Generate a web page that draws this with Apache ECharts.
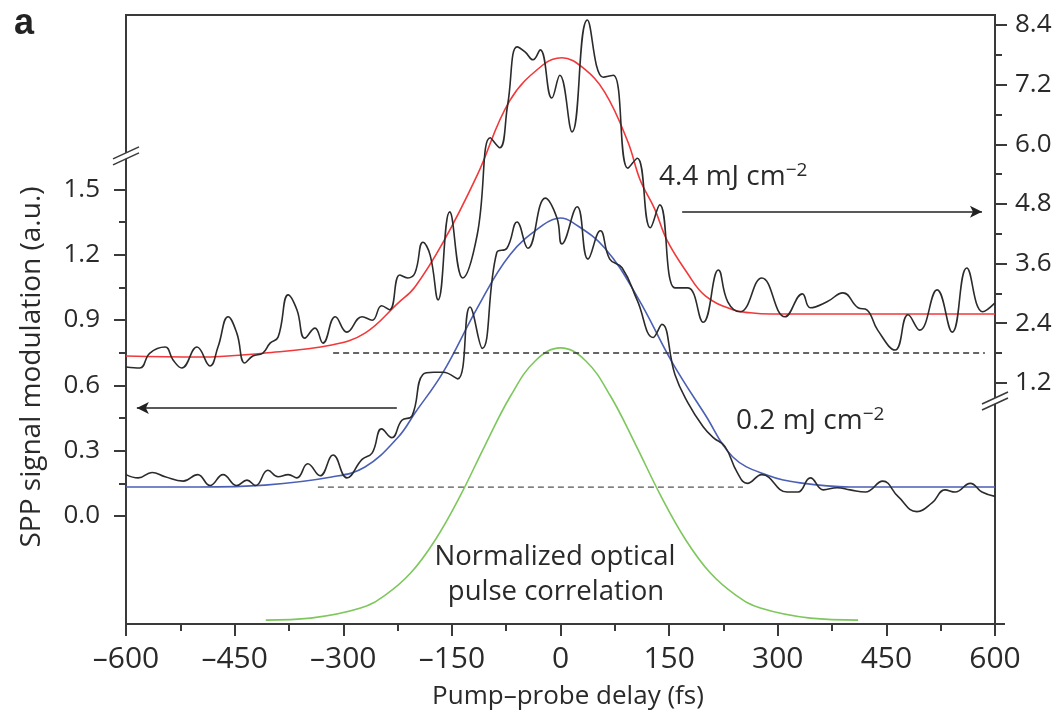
<!DOCTYPE html>
<html><head><meta charset="utf-8">
<script src="https://cdn.jsdelivr.net/npm/echarts@6/dist/echarts.min.js"></script>
<style>html,body{margin:0;padding:0;background:#fff}#c{width:1056px;height:714px}</style>
</head><body><div id="c"></div>
<script>
// ---- tick values ----
const xTicks = [-600, -450, -300, -150, 0, 150, 300, 450, 600];
const xMinorTicks = [-525, -375, -225, -75, 75, 225, 375, 525];
const leftTicks = [0, 0.3, 0.6, 0.9, 1.2, 1.5];
const leftMinorTicks = [0.15, 0.45, 0.75, 1.05, 1.35];
const rightTicks = [1.2, 2.4, 3.6, 4.8, 6.0, 7.2, 8.4];
const rightMinorTicks = [1.8, 3.0, 4.2, 5.4, 6.6, 7.8];
const leftBreakValue = 1.654;   // axis break on left scale
const rightBreakValue = 0.835;  // axis break on right scale

// ---- 4.4 mJ cm-2 measured signal (right axis) ----
const signalHigh = [[-600,1.52],[-581,1.50],[-567,1.80],[-546,1.92],[-535,1.66],[-523,1.50],[-502,1.92],[-484,1.54],[-473,1.92],[-459,2.53],[-447,2.20],[-436,1.60],[-425,1.74],[-411,1.80],[-401,2.00],[-390,2.12],[-376,2.97],[-364,2.67],[-353,2.10],[-339,2.30],[-328,2.00],[-311,2.53],[-295,2.22],[-274,2.53],[-260,2.46],[-247,2.75],[-236,2.67],[-222,3.37],[-211,3.31],[-201,3.41],[-190,4.03],[-180,3.77],[-169,2.87],[-153,4.64],[-135,3.31],[-115,4.18],[-97,6.13],[-84,5.93],[-73,6.79],[-60,7.96],[-49,7.86],[-38,7.70],[-28,7.90],[-12,6.93],[-1,7.39],[16,6.25],[37,8.50],[59,7.35],[73,7.39],[93,5.52],[106,5.72],[124,4.32],[137,4.78],[158,3.11],[176,3.11],[197,2.42],[218,3.47],[231,2.83],[248,2.63],[278,3.31],[310,2.53],[334,2.99],[345,2.71],[368,2.83],[390,3.01],[411,2.71],[423,2.67],[438,2.26],[462,1.86],[480,2.57],[496,2.26],[520,3.07],[541,2.22],[561,3.51],[583,2.63],[600,2.81]];
// ---- 4.4 mJ cm-2 fit (right axis) ----
const fitHigh = [[-600,1.74],[-500,1.72],[-408,1.80],[-316,1.96],[-270,2.20],[-224,2.81],[-201,3.13],[-162,4.03],[-115,5.38],[-70,6.88],[-24,7.60],[2,7.74],[30,7.55],[61,7.05],[93,6.05],[110,5.28],[130,4.70],[147,4.07],[175,3.41],[200,2.95],[238,2.67],[262,2.61],[290,2.585],[400,2.585],[500,2.585],[600,2.585]];
// ---- 0.2 mJ cm-2 measured signal (left axis) ----
const signalLow = [[-600,0.19],[-583,0.175],[-564,0.20],[-546,0.18],[-521,0.16],[-501,0.19],[-484,0.14],[-466,0.19],[-447,0.14],[-433,0.165],[-421,0.14],[-404,0.21],[-390,0.18],[-376,0.19],[-364,0.175],[-349,0.24],[-332,0.185],[-314,0.28],[-295,0.175],[-274,0.26],[-260,0.29],[-247,0.40],[-233,0.36],[-219,0.44],[-205,0.46],[-190,0.65],[-175,0.66],[-162,0.66],[-142,0.63],[-125,0.96],[-108,0.77],[-88,1.21],[-74,1.23],[-60,1.35],[-45,1.23],[-21,1.46],[-5,1.37],[2,1.25],[23,1.42],[38,1.18],[55,1.31],[68,1.18],[85,1.14],[106,0.99],[128,0.82],[140,0.88],[158,0.65],[176,0.52],[197,0.41],[211,0.36],[227,0.32],[244,0.20],[258,0.15],[278,0.19],[313,0.11],[328,0.11],[345,0.175],[363,0.12],[382,0.13],[400,0.12],[421,0.11],[445,0.16],[466,0.09],[492,0.02],[513,0.06],[531,0.12],[545,0.11],[566,0.15],[582,0.11],[600,0.09]];
// ---- 0.2 mJ cm-2 fit (left axis) ----
const fitLow = [[-600,0.133],[-500,0.133],[-408,0.142],[-316,0.179],[-270,0.225],[-224,0.363],[-201,0.473],[-162,0.661],[-115,0.955],[-70,1.199],[-24,1.337],[0,1.369],[16,1.35],[61,1.231],[107,1.001],[154,0.707],[200,0.464],[238,0.271],[285,0.188],[331,0.152],[400,0.133],[500,0.133],[600,0.133]];
// ---- normalized optical pulse correlation (left axis) ----
const pulse = [[-407,-0.478],[-345,-0.469],[-276,-0.423],[-242,-0.363],[-207,-0.262],[-173,-0.110],[-138,0.096],[-104,0.326],[-69,0.551],[-35,0.712],[0,0.772],[35,0.712],[69,0.551],[104,0.326],[138,0.096],[173,-0.110],[207,-0.262],[242,-0.363],[276,-0.423],[345,-0.469],[411,-0.478]];
// ---- dashed baselines ----
const baselineHigh = [[-314,1.80],[586,1.80]];
const baselineLow = [[-335,0.133],[252,0.133]];
// ---- arrows ----
const arrowLeft = [[-226,0.496],[-585,0.496]];
const arrowRight = [[168,4.643],[582,4.643]];

const FONT = '"Open Sans", "Noto Sans", sans-serif';
const AX = '#3a3a3a';
const TXT = '#2a2a2a';

const chart = echarts.init(document.getElementById('c'), null, {renderer: 'canvas'});

function yAx(pos, min, max, ticks, len, showLine, labelMargin) {
  return {
    type: 'value', position: pos, min: min, max: max,
    axisLine: {show: showLine, onZero: false, lineStyle: {color: AX, width: 2}},
    axisTick: {show: true, inside: false, length: len, customValues: ticks, lineStyle: {color: AX, width: 2}},
    axisLabel: labelMargin == null ? {show: false} : {
      customValues: ticks, margin: labelMargin, fontSize: 26, color: TXT, fontFamily: FONT,
      formatter: v => Number(v).toFixed(1)
    },
    splitLine: {show: false}
  };
}
const LMIN = -0.496, LMAX = 2.301, RMIN = -3.652, RMAX = 8.601;

function lineSeries(name, data, yIdx, color, width, smooth, extra) {
  return Object.assign({
    name: name, type: 'line', data: data, yAxisIndex: yIdx, symbol: 'none',
    smooth: smooth, lineStyle: {color: color, width: width}, silent: true, z: 3
  }, extra || {});
}
function arrowMark(pair) {
  return {
    silent: true, symbol: ['none', 'arrow'], symbolSize: [9, 12],
    label: {show: false}, lineStyle: {color: '#222', width: 1.5, type: 'solid'},
    data: [[{coord: pair[0]}, {coord: pair[1]}]]
  };
}

const option = {
  animation: false,
  backgroundColor: '#fff',
  grid: {left: 126, right: 61, top: 15, bottom: 90, show: true, borderColor: AX, borderWidth: 2, backgroundColor: 'transparent'},
  xAxis: [
    {
      type: 'value', position: 'bottom', min: -600, max: 600,
      axisLine: {show: true, onZero: false, lineStyle: {color: AX, width: 2}},
      axisTick: {show: true, length: 12, customValues: xTicks, lineStyle: {color: AX, width: 2}},
      axisLabel: {customValues: xTicks, margin: 20, fontSize: 30, color: TXT, fontFamily: FONT,
        formatter: v => (v < 0 ? '\u2013' + (-v) : String(v))},
      splitLine: {show: false}
    },
    {
      type: 'value', position: 'bottom', min: -600, max: 600,
      axisLine: {show: false, onZero: false},
      axisTick: {show: true, length: 7, customValues: xMinorTicks, lineStyle: {color: AX, width: 2}},
      axisLabel: {show: false}, splitLine: {show: false}
    }
  ],
  yAxis: [
    yAx('left', LMIN, LMAX, leftTicks, 12, true, 26),
    yAx('right', RMIN, RMAX, rightTicks, 12, true, 20),
    yAx('left', LMIN, LMAX, leftMinorTicks, 7, false, null),
    yAx('right', RMIN, RMAX, rightMinorTicks, 7, false, null)
  ],
  series: [
    lineSeries('pulse', pulse, 0, '#7dc75c', 1.6, 0.4),
    lineSeries('fitHigh', fitHigh, 1, '#f2383a', 1.6, 0.4),
    lineSeries('fitLow', fitLow, 0, '#4b5fb5', 1.6, 0.4),
    lineSeries('baselineHigh', baselineHigh, 1, '#333', 1.3, false, {lineStyle: {color: '#333', width: 1.3, type: [6, 4]}}),
    lineSeries('baselineLow', baselineLow, 0, '#555', 1.3, false, {lineStyle: {color: '#555', width: 1.3, type: [6, 4]}}),
    lineSeries('signalHigh', signalHigh, 1, '#2b2b2b', 1.6, 0.45, {z: 4, markLine: arrowMark(arrowRight)}),
    lineSeries('signalLow', signalLow, 0, '#2b2b2b', 1.6, 0.45, {z: 4, markLine: arrowMark(arrowLeft)})
  ]
};
chart.setOption(option);

// ---- decorations placed through the axes ----
const xPix = v => chart.convertToPixel({xAxisIndex: 0}, v);
const yL = v => chart.convertToPixel({yAxisIndex: 0}, v);
const yR = v => chart.convertToPixel({yAxisIndex: 1}, v);
const xl = xPix(-600), xr = xPix(600), yb = yL(LMIN);

function breakMark(x, yc) {
  const els = [{type: 'rect', shape: {x: x - 3, y: yc - 3, width: 6, height: 6}, style: {fill: '#fff'}, z: 100}];
  [-3, 3].forEach(d => els.push({
    type: 'line', shape: {x1: x - 13, y1: yc + 6 + d, x2: x + 13, y2: yc - 6 + d},
    style: {stroke: AX, lineWidth: 1.6}, z: 101
  }));
  return els;
}
const sup = {fontSize: 19, verticalAlign: 'top', lineHeight: 18, fontFamily: FONT, fill: TXT, color: TXT};
const main = {fontSize: 28, lineHeight: 32, fontFamily: FONT, fill: TXT, color: TXT};

const graphics = [].concat(
  breakMark(xl, yL(leftBreakValue)),
  breakMark(xr, yR(rightBreakValue)),
  [
    {type: 'line', shape: {x1: xr, y1: yb, x2: xr + 10, y2: yb}, style: {stroke: AX, lineWidth: 2}, z: 100},
    {type: 'text', x: 14, y: 24, style: {text: 'a', fontSize: 36, fontWeight: 'bold', fontFamily: '"Liberation Sans", Arial, sans-serif', fill: '#222', verticalAlign: 'middle'}, z: 100},
    {type: 'text', x: 32, y: 367, rotation: Math.PI / 2, style: {text: 'SPP signal modulation (a.u.)', fontSize: 28, fontFamily: FONT, fill: TXT, align: 'center', verticalAlign: 'middle'}, z: 100},
    {type: 'text', x: 568, y: 697, style: {text: 'Pump\u2013probe delay (fs)', fontSize: 26, fontFamily: FONT, fill: TXT, align: 'center', verticalAlign: 'middle'}, z: 100},
    {type: 'text', x: 659, y: 177, style: {text: '{m|4.4 mJ cm}{s|\u22122}', rich: {m: main, s: sup}, verticalAlign: 'middle'}, z: 100},
    {type: 'text', x: 736, y: 421, style: {text: '{m|0.2 mJ cm}{s|\u22122}', rich: {m: main, s: sup}, verticalAlign: 'middle'}, z: 100},
    {type: 'text', x: 555, y: 557, style: {text: 'Normalized optical', fontSize: 27.5, fontFamily: FONT, fill: TXT, align: 'center', verticalAlign: 'middle'}, z: 100},
    {type: 'text', x: 556, y: 592, style: {text: 'pulse correlation', fontSize: 27.5, fontFamily: FONT, fill: TXT, align: 'center', verticalAlign: 'middle'}, z: 100}
  ]
);
chart.setOption({graphic: graphics});
</script>
</body></html>
